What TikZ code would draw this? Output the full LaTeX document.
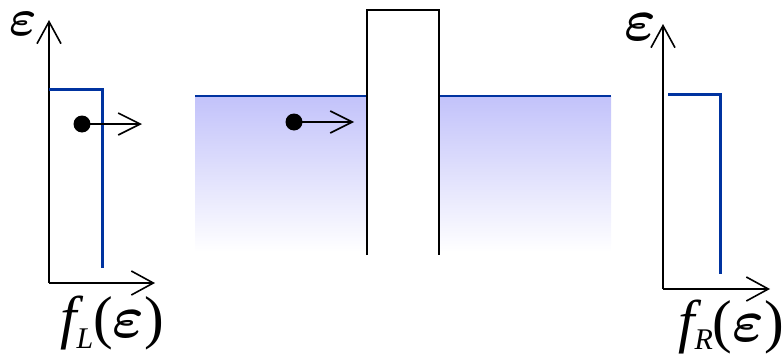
\documentclass[tikz,border=0pt]{standalone}
\usepackage{graphicx}
\usepackage{fontspec}
\setmainfont{Liberation Serif}
\usetikzlibrary{arrows.meta}
\definecolor{fblue}{RGB}{0,51,160}
\definecolor{seablue}{RGB}{194,194,250}
\tikzset{
  axis/.style={line width=2pt, -{Straight Barb[length=22pt,width=24pt,line width=1.6pt]}},
  occ/.style={fblue, line width=3pt},
  motion/.style={line width=1.6pt, -{Straight Barb[length=22pt,width=22pt,line width=1.6pt]}},
  electron/.style={circle, fill=black, inner sep=0pt, minimum size=17pt},
  lbl/.style={font=\fontsize{59}{64}\selectfont, inner sep=0pt},
  elbl/.style={inner sep=0pt},
}
\newcommand{\epsy}[1]{\scalebox{#1}{\fontsize{10}{12}\selectfont\boldmath$\varepsilon$}}
\newcommand{\subl}[2]{\raisebox{-#1pt}{\fontsize{30}{32}\selectfont\itshape #2}}
\begin{document}
\begin{tikzpicture}[x=1pt,y=-1pt]
\useasboundingbox (0,0) rectangle (784,356);
% sea shading
\shade[top color=seablue, bottom color=white] (195,96) rectangle (611,252);
\fill[white] (367,10) rectangle (439,258);
\draw[fblue, line width=1.5pt] (195,96) -- (367,96);
\draw[fblue, line width=1.5pt] (439,96) -- (611,96);
% barrier
\coordinate (b1) at (367,255);
\coordinate (b2) at (367,10);
\coordinate (b3) at (439,10);
\coordinate (b4) at (439,255);
\draw[line width=2pt] (b1) -- (b2) -- (b3) -- (b4);
% left axes
\coordinate (oL) at (49,283);
\coordinate (yL) at (49,20);
\coordinate (xL) at (155,283);
\draw[axis] (oL) -- (yL);
\draw[axis] (oL) -- (xL);
\draw[occ] (49,89) -- (102,89) -- (102,268);
\node[electron] (eL) at (82,124) {};
\coordinate (eLt) at (142,124);
\draw[motion] (eL.center) -- (eLt);
\node[elbl] (epsL) at (23,24) {\epsy{5.2}};
\node[lbl, anchor=base west] (fL) at (60,337) {\itshape f\subl{11}{L}\upshape(\epsy{6.0})};
% middle electron
\node[electron] (eM) at (294,122) {};
\coordinate (eMt) at (354,122);
\draw[motion] (eM.center) -- (eMt);
% right axes
\coordinate (oR) at (663,289);
\coordinate (yR) at (663,24);
\coordinate (xR) at (770,289);
\draw[axis] (oR) -- (yR);
\draw[axis] (oR) -- (xR);
\draw[occ] (668,94) -- (720,94) -- (720,274);
\node[elbl] (epsR) at (640,27) {\epsy{6.0}};
\node[lbl, anchor=base west] (fR) at (678,341) {\itshape f\subl{8}{R}\upshape(\epsy{6.0})};
\end{tikzpicture}
\end{document}
